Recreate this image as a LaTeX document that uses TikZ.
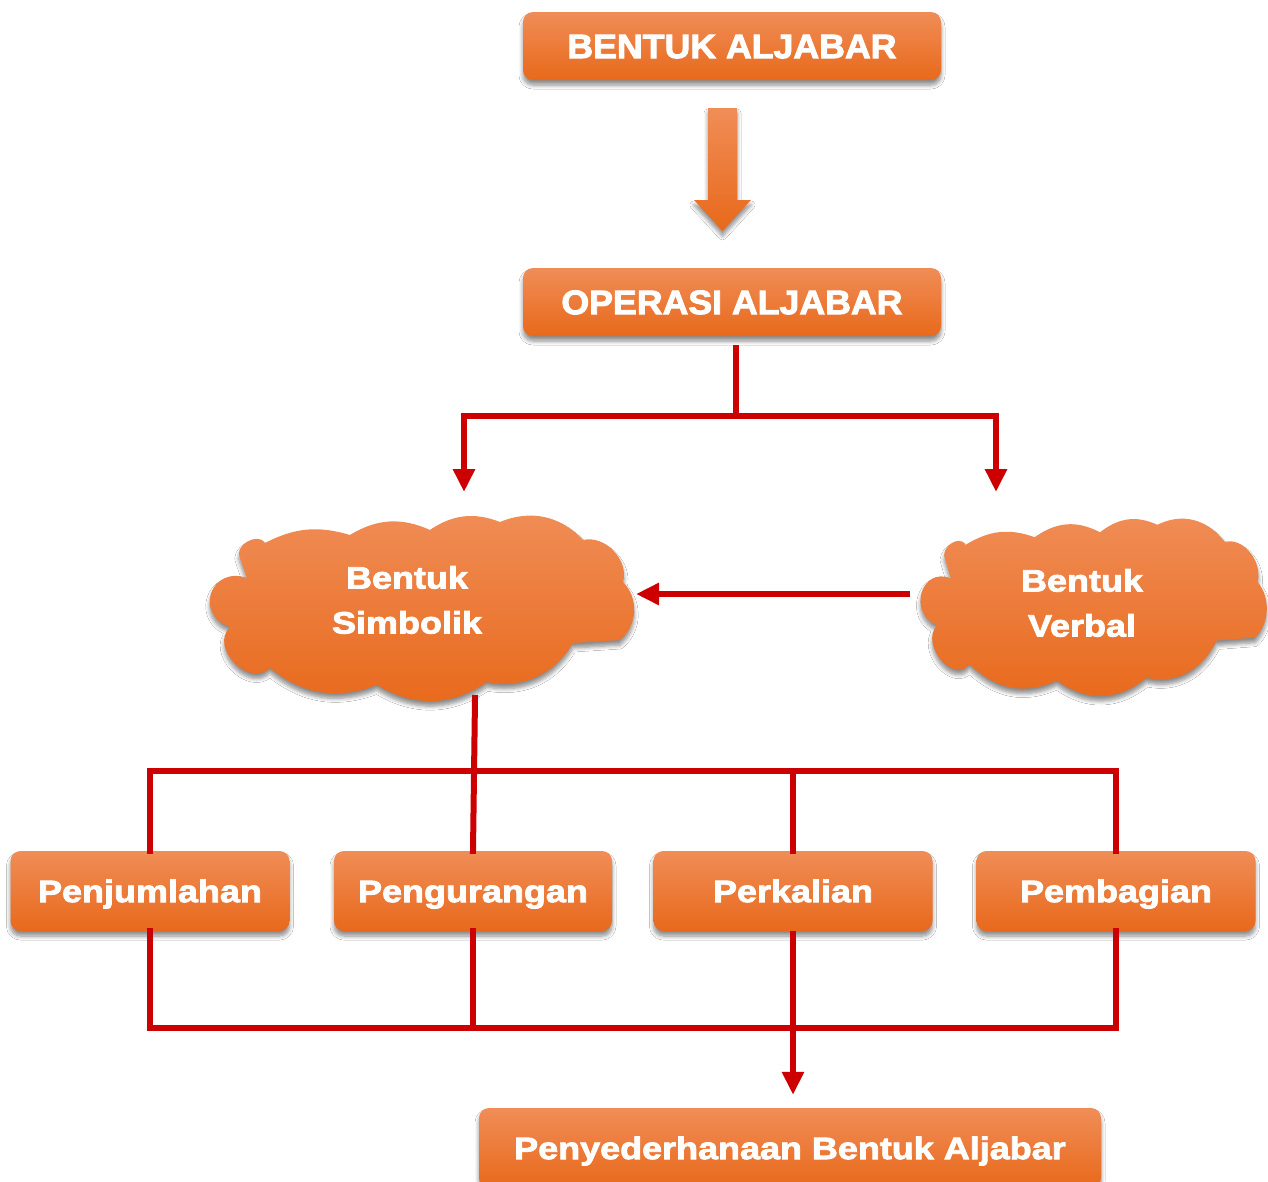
\documentclass[tikz,border=0pt]{standalone}
\usepackage{fontspec}
\newfontfamily\heavybig{Liberation Sans Bold}[FakeBold=2.6,FakeStretch=1.05]
\newfontfamily\heavy{Liberation Sans Bold}[FakeBold=2.6,FakeStretch=1.16]
\usetikzlibrary{arrows.meta,shadows.blur}
\definecolor{oTop}{HTML}{F08D57}
\definecolor{oMid}{HTML}{F37D2D}
\definecolor{oBot}{HTML}{E8691B}
\definecolor{rline}{HTML}{CC0000}
\tikzset{
  oshade/.style={top color=oTop, middle color=oMid, bottom color=oBot},
  oshadow/.style={blur shadow={shadow blur steps=6, shadow xshift=0pt, shadow yshift=-5pt, shadow opacity=45, shadow blur radius=4pt}},
  obox/.style={oshade, oshadow, rounded corners=10pt, inner sep=0pt, text=white, align=center, text depth=0pt},
  bigtxt/.style={font=\heavybig\fontsize{34}{40}\selectfont, text height=24.3pt},
  midtxt/.style={font=\heavy\fontsize{31}{45}\selectfont, text height=22.2pt},
  cloudtxt/.style={inner sep=0pt, text=white, align=center, font=\heavy\fontsize{31}{45}\selectfont},
  redline/.style={draw=rline, line width=6pt, line cap=rect, line join=miter},
  redarrow/.style={draw=rline, line width=6pt, -{Triangle[width=21pt,length=23pt]}},
}
\newcommand\mycloudpath{%
  (-173,-30) -- (-180,-50)
  to[bend left=90,looseness=1.2] (-155,-65)
  to[bend left=22] (-70,-73)
  to[bend left=28] (10,-78)
  to[bend left=28] (80,-86)
  to[bend left=35] (163,-68)
  to[bend left=60] (203,-26)
  to[bend left=48] (200,32)
  -- (153,35)
  to[bend left=35] (67,74)
  to[bend left=33] (-43,77)
  to[bend left=30] (-150,60)
  to[bend left=90,looseness=1.3] (-190,19)
  to[bend left=90,looseness=1.9] cycle}
\begin{document}
\begin{tikzpicture}[x=1pt,y=-1pt]
\useasboundingbox (0,0) rectangle (1268,1181);
\fill[white] (0,0) rectangle (1268,1181);

% top boxes
\node[obox, bigtxt, minimum width=418pt, minimum height=68pt] (b1) at (732,46) {BENTUK ALJABAR};
\node[obox, bigtxt, minimum width=418pt, minimum height=68pt] (b2) at (732,302) {OPERASI ALJABAR};

% block arrow
\shade[oshade, oshadow] (708,108) -- (737,108) -- (737,200) -- (751,200) -- (722.5,231) -- (694,200) -- (708,200) -- cycle;

% clouds
\begin{scope}[shift={(420,608)}]
  \shade[oshade, oshadow] \mycloudpath;
\end{scope}
\begin{scope}[shift={(1092,607)}, xscale=0.816, yscale=0.956]
  \shade[oshade, oshadow] \mycloudpath;
\end{scope}
\node[cloudtxt] (sim) at (407,600) {Bentuk\\Simbolik};
\node[cloudtxt] (ver) at (1082,603) {Bentuk\\Verbal};

% operation boxes
\node[obox, midtxt, minimum width=279pt, minimum height=80pt] (p1) at (150,891) {Penjumlahan};
\node[obox, midtxt, minimum width=278pt, minimum height=80pt] (p2) at (473,891) {Pengurangan};
\node[obox, midtxt, minimum width=279pt, minimum height=80pt] (p3) at (793,891) {Perkalian};
\node[obox, midtxt, minimum width=279pt, minimum height=80pt] (p4) at (1116,891) {Pembagian};

% final box
\node[obox, midtxt, minimum width=622pt, minimum height=80pt] (fin) at (790,1148) {Penyederhanaan Bentuk Aljabar};

% connectors from OPERASI ALJABAR
\coordinate (j1) at (736,416);
\coordinate (aL) at (464,492);
\coordinate (aR) at (996,492);
\draw[redline] ([xshift=4pt,yshift=-12pt]b2.south) -- (j1);
\draw[redarrow] (j1) -- (aL |- j1) -- (aL);
\draw[redarrow] (j1) -- (aR |- j1) -- (aR);

% verbal -> simbolik
\coordinate (vL) at (910,594);
\coordinate (sR) at (636,594);
\draw[redarrow] (vL) -- (sR);

% simbolik -> operations
\coordinate (sB) at (475,698);
\draw[redline] (sB) -- (p2.north);
\draw[redline] (p1.north) -- ++(0,-80) -| (p4.north);
\draw[redline] (p3.north) -- ++(0,-80);

% operations -> final
\draw[redline] (p1.south) -- ++(0,97) -| (p4.south);
\draw[redline] (p2.south) -- ++(0,97);
\draw[redarrow] (p3.south) -- ([yshift=13pt]fin.north -| p3.south);
\end{tikzpicture}
\end{document}
